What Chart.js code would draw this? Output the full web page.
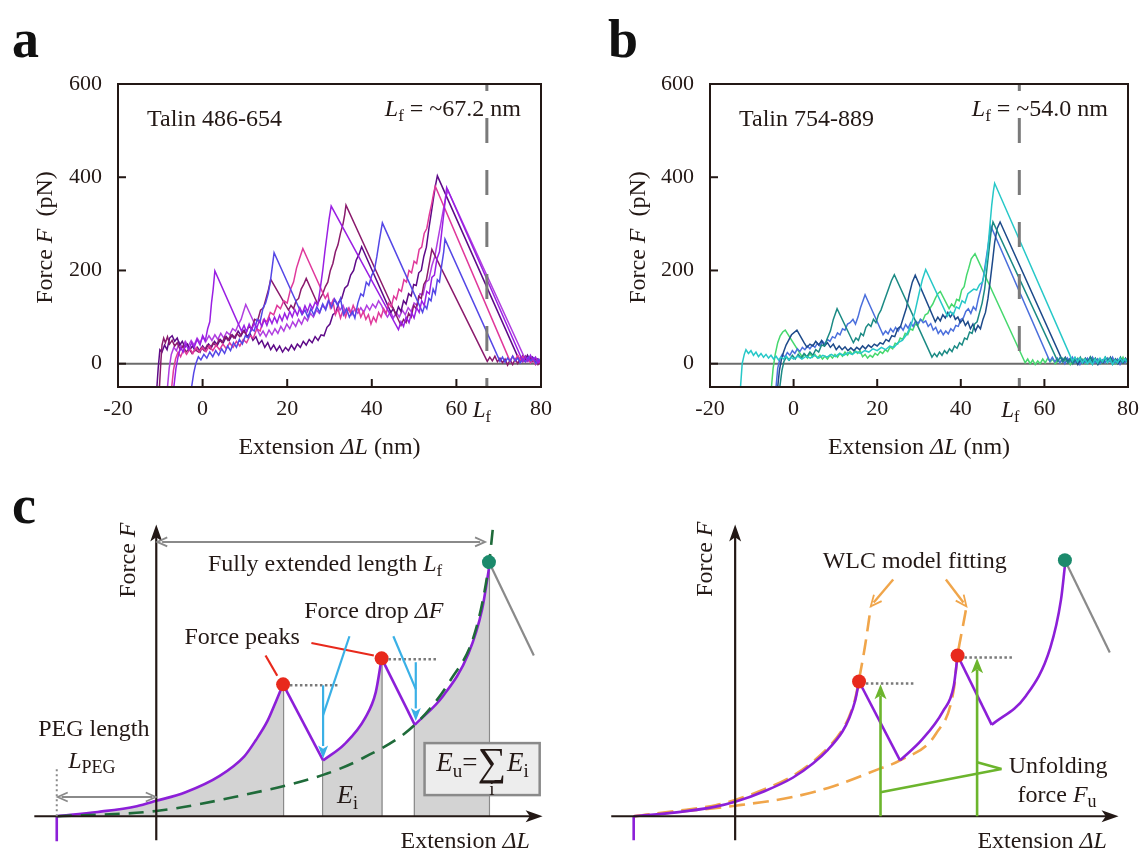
<!DOCTYPE html>
<html>
<head>
<meta charset="utf-8">
<script src="https://cdn.jsdelivr.net/npm/chart.js@4.4.1/dist/chart.umd.min.js"></script>
<style>
  html, body { margin: 0; padding: 0; background: #fff; }
  #wrap { position: relative; width: 1148px; height: 856px; overflow: hidden; }
  canvas { position: absolute; }
  .lab { position: absolute; font-family: "Liberation Serif", serif; font-weight: bold; font-size: 54px; color: #111; line-height: 1; }
</style>
</head>
<body>
<div id="wrap">
  <div class="lab" style="left:12px;top:12px">a</div>
  <div class="lab" style="left:608px;top:12px">b</div>
  <div class="lab" style="left:12px;top:478px">c</div>
  <canvas id="chartA" style="left:0;top:0" width="574" height="480"></canvas>
  <canvas id="chartB" style="left:574px;top:0" width="574" height="480"></canvas>
  <canvas id="chartC1" style="left:0;top:480px" width="574" height="376"></canvas>
  <canvas id="chartC2" style="left:574px;top:480px" width="574" height="376"></canvas>
</div>
<script>
const FONT = '"Liberation Serif", "Times New Roman", serif';
const INK = '#231815';

// axes (panels a, b): extension in nm, force in pN
const xTickLabels = [-20, 0, 20, 40, 60, 80];
const xTickMarks = [0, 20, 40, 60];
const yTicks = [0, 200, 400, 600];
const lfA = 67.2;
const lfB = 54.0;

// panel a traces, Talin 486-654
const traceA1 = [[-6.8,-50],[-6.3,-10],[-5.8,15],[-5.2,35],[-4.6,25],[-4,42],[-3.3,30],[-2.6,45],[-2,35],[-1.3,52],[-0.6,40],[0,60],[0.6,48],[1.2,75],[1.7,90],[2.1,130],[2.5,160],[2.9,199],[9.2,70],[9.8,82],[10.4,68],[11,85],[11.6,72],[12.2,88],[12.8,76],[13.4,92],[14,80],[14.6,95],[15.2,82],[15.8,98],[16.4,86],[17,100],[17.6,88],[18.2,104],[18.8,92],[19.4,108],[20,96],[20.6,112],[21.2,100],[21.8,116],[22.4,104],[23,120],[23.6,108],[24.2,124],[24.8,112],[25.4,128],[26,118],[26.6,132],[27.2,125],[27.8,160],[28.4,200],[28.9,240],[29.4,275],[29.9,310],[30.4,338],[46.3,73],[46.9,90],[47.5,80],[48.1,100],[48.8,88],[49.4,110],[50,98],[50.6,120],[51.2,110],[51.8,135],[52.4,125],[53,155],[53.6,150],[54.2,185],[54.8,190],[55.4,225],[56,240],[56.5,280],[57,320],[57.4,355],[57.7,378],[75.7,5],[76.3,15],[76.9,5],[77.5,18],[78.1,8],[78.7,14],[79.3,2],[80,10]];
const traceA2 = [[-2.6,-50],[-2.1,-20],[-1.6,0],[-1,15],[-0.4,8],[0.3,20],[1,12],[1.7,25],[2.4,15],[3.1,28],[3.8,18],[4.5,32],[5.2,22],[5.9,38],[6.6,28],[7.3,45],[8,35],[8.7,52],[9.4,42],[10.1,60],[10.8,55],[11.5,75],[12.2,70],[12.9,95],[13.6,90],[14.3,120],[14.9,130],[15.5,150],[16,175],[16.5,210],[16.9,238],[23.5,105],[24.2,115],[24.9,100],[25.6,118],[26.3,105],[27,122],[27.7,110],[28.4,128],[29.1,115],[29.8,135],[30.5,120],[31.2,138],[31.9,125],[32.6,140],[33.3,105],[34,118],[34.7,100],[35.4,112],[36,98],[36.7,130],[37.4,150],[38,145],[38.7,175],[39.3,168],[40,190],[40.6,200],[41.2,230],[41.8,265],[42.5,302],[52,110],[52.5,125],[53,118],[53.5,140],[54,135],[54.5,160],[55,150],[55.5,180],[56,175],[56.5,210],[57,240],[57.3,267],[70.3,5],[70.9,14],[71.5,3],[72.1,12],[72.7,5],[73.3,16],[73.9,6],[74.5,12],[75.1,2],[75.7,10],[76.3,4],[77,14],[77.6,6],[78.2,12],[78.8,0],[79.4,9],[80,2]];
const traceA3 = [[-7.3,-50],[-6.9,-15],[-6.4,10],[-5.8,25],[-5.2,15],[-4.5,30],[-3.8,20],[-3,32],[-2.3,22],[-1.5,35],[-0.8,25],[0,35],[0.8,26],[1.6,38],[2.4,28],[3.2,40],[4,30],[4.8,42],[5.6,32],[6.4,45],[7.2,35],[8,48],[8.8,38],[9.6,52],[10.4,45],[11.2,60],[12,55],[12.8,75],[13.6,70],[14.4,95],[15.2,90],[16,110],[16.8,105],[17.6,125],[18.4,118],[19.2,135],[20,130],[20.8,160],[21.5,175],[22.2,205],[22.9,225],[23.7,247],[29,140],[29.6,150],[30.2,120],[30.8,135],[31.4,105],[32,118],[32.6,98],[33.2,115],[33.8,100],[34.4,118],[35,108],[35.6,125],[36.2,112],[36.8,118],[37.4,100],[38,112],[38.6,95],[39.2,105],[39.8,85],[40.4,100],[41,90],[41.6,110],[42.2,100],[42.8,118],[43.4,108],[44,130],[44.6,122],[45.2,145],[45.8,138],[46.4,160],[47,155],[47.6,180],[48.2,175],[48.8,200],[49.4,195],[50,220],[50.6,215],[51.2,245],[51.8,250],[52.4,280],[53,290],[53.6,320],[54.2,345],[54.6,365],[55,381],[72.7,5],[73.3,16],[73.9,6],[74.5,18],[75.1,8],[75.7,15],[76.3,4],[76.9,12],[77.5,2],[78.1,10],[78.7,-2],[79.3,8],[80,0]];
const traceA4 = [[-10.2,-50],[-9.9,0],[-9.6,40],[-9.2,55],[-8.8,45],[-8.3,58],[-7.8,42],[-7.2,50],[-6.6,38],[-6,45],[-5.3,30],[-4.6,38],[-3.9,25],[-3.2,32],[-2.5,22],[-1.8,30],[-1,25],[-0.3,35],[0.4,28],[1.1,40],[1.8,32],[2.5,45],[3.2,38],[3.9,52],[4.6,45],[5.3,58],[6,50],[6.7,62],[7.4,55],[8.1,65],[8.8,58],[9.5,70],[10.2,65],[10.9,80],[11.6,75],[12.3,95],[13,92],[13.7,115],[14.4,120],[15,140],[15.6,160],[16.1,181],[20.3,115],[20.9,125],[21.5,118],[22.1,135],[22.7,140],[23.3,160],[23.9,170],[24.5,183],[27.2,128],[27.8,140],[28.4,150],[29,165],[29.6,175],[30.2,200],[30.8,215],[31.4,240],[32,255],[32.6,280],[33.2,300],[33.6,320],[33.9,340],[46.9,82],[47.5,95],[48.1,88],[48.7,108],[49.3,100],[49.9,125],[50.5,118],[51.1,145],[51.7,140],[52.3,170],[52.9,180],[53.5,210],[54.2,245],[67.3,5],[67.9,14],[68.5,6],[69.1,16],[69.7,4],[70.3,12],[70.9,2],[71.5,10],[72.1,-3],[72.7,8],[73.3,-2],[73.9,10],[74.5,0],[75.1,12],[75.7,4],[76.3,16],[76.9,6],[77.5,14],[78.1,4],[78.7,12],[79.3,-2],[80,6]];
const traceA5 = [[-10.8,-50],[-10.5,-10],[-10.1,30],[-9.6,25],[-9,40],[-8.4,30],[-7.8,55],[-7.2,60],[-6.6,48],[-6,55],[-5.4,40],[-4.8,48],[-4.2,35],[-3.6,42],[-3,30],[-2.4,38],[-1.8,28],[-1.2,35],[-0.6,25],[0,38],[0.7,30],[1.4,42],[2.1,35],[2.8,48],[3.5,40],[4.2,52],[4.9,45],[5.6,58],[6.3,50],[7,62],[7.7,55],[8.4,70],[9.1,60],[9.8,72],[10.5,58],[11.2,65],[11.9,50],[12.6,58],[13.3,42],[14,50],[14.7,35],[15.4,45],[16.1,30],[16.8,40],[17.5,28],[18.2,38],[18.9,25],[19.6,35],[20.3,28],[21,40],[21.7,30],[22.4,42],[23.1,35],[23.8,48],[24.5,40],[25.2,52],[25.9,45],[26.6,58],[27.3,50],[28,62],[28.7,60],[29.4,78],[30.1,85],[30.8,105],[31.5,110],[32.2,132],[32.9,140],[33.6,162],[34.3,168],[35,190],[35.7,200],[36.3,222],[37,235],[37.6,251],[44.5,110],[45.1,118],[45.7,105],[46.3,122],[46.9,112],[47.5,135],[48.1,128],[48.7,150],[49.3,145],[49.9,170],[50.5,168],[51.1,195],[51.7,200],[52.3,230],[52.9,250],[53.5,290],[54,320],[54.5,350],[55,380],[55.5,403],[75,5],[75.6,16],[76.2,6],[76.8,18],[77.4,8],[78,14],[78.6,2],[79.2,10],[80,-2]];
const traceA6 = [[-8.3,-50],[-7.9,-10],[-7.4,20],[-6.8,35],[-6.2,28],[-5.5,45],[-4.8,35],[-4.1,48],[-3.4,38],[-2.7,50],[-2,40],[-1.3,55],[-0.6,45],[0.1,58],[0.8,48],[1.5,60],[2.2,50],[2.9,62],[3.6,52],[4.3,65],[5,55],[5.7,68],[6.4,62],[7.1,75],[7.8,70],[8.5,85],[9.1,95],[9.6,110],[10.2,127],[13.6,60],[14.3,70],[15,58],[15.7,72],[16.4,62],[17.1,75],[17.8,65],[18.5,80],[19.2,70],[19.9,85],[20.6,75],[21.3,90],[22,80],[22.7,95],[23.4,85],[24.1,100],[24.8,92],[25.5,108],[26.2,100],[26.9,115],[27.6,108],[28.3,125],[29,118],[29.7,135],[30.4,128],[31.1,140],[31.8,130],[32.5,115],[33.2,125],[33.9,108],[34.6,120],[35.3,105],[36,118],[36.7,108],[37.4,120],[38.1,110],[38.8,125],[39.5,115],[40.2,128],[40.9,120],[41.6,135],[42.3,125],[43,110],[43.7,100],[44.4,112],[45.1,98],[45.8,110],[46.5,100],[47.2,115],[47.9,105],[48.6,120],[49.3,112],[50,130],[50.7,125],[51.4,150],[52.1,148],[52.8,175],[53.5,180],[54.2,210],[54.9,230],[55.6,265],[56.3,300],[57,335],[57.6,360],[58,372],[76.5,5],[77.1,14],[77.7,4],[78.3,12],[78.9,2],[79.5,10],[80,3]];
const colorsA = ['#9a1fe3', '#5547e6', '#e0399b', '#8a1a6c', '#5e0a88', '#b03ee0'];

// panel b traces, Talin 754-889
const traceB1 = [[-12.7,-50],[-12.3,0],[-11.8,20],[-11.4,30],[-10.8,22],[-10.2,28],[-9.6,18],[-9,25],[-8.4,15],[-7.8,22],[-7.2,14],[-6.6,20],[-6,12],[-5.4,18],[-4.8,10],[-4.2,16],[-3.6,8],[-3,14],[-2.4,10],[-1.8,16],[-1.2,8],[-0.6,14],[0,10],[1,16],[2,10],[3,16],[4,12],[5,18],[6,12],[7,18],[8,14],[9,20],[10,15],[11,22],[12,18],[13,24],[14,20],[15,26],[16,22],[17,28],[18,25],[19,32],[20,28],[21,35],[22,30],[23,38],[24,35],[25,45],[26,50],[27,62],[28,80],[29,110],[30,150],[30.8,180],[31.6,202],[36.8,102],[37.5,112],[38.2,105],[38.9,122],[39.6,118],[40.3,135],[41,130],[41.7,150],[42.4,155],[43.1,160],[43.8,158],[44.5,170],[45.2,175],[45.8,200],[46.4,240],[46.9,290],[47.4,340],[47.8,370],[48.1,387],[66.7,6],[67.3,14],[67.9,4],[68.5,12],[69.1,2],[69.7,10],[70.3,0],[70.9,8],[71.5,-2],[72.1,10],[72.7,2],[73.3,12],[73.9,4],[74.5,14],[75.1,2],[75.7,10],[76.3,-2],[76.9,8],[77.5,2],[78.1,12],[78.7,4],[79.3,10],[80,2]];
const traceB2 = [[-3.3,-50],[-2.8,-15],[-2.3,5],[-1.7,15],[-1,8],[-0.3,18],[0.4,10],[1.1,20],[1.8,12],[2.5,22],[3.2,15],[3.9,25],[4.6,18],[5.3,30],[6,25],[6.7,40],[7.4,38],[8.1,55],[8.8,70],[9.5,95],[10.4,118],[14.3,45],[14.9,55],[15.5,50],[16.1,65],[16.7,60],[17.3,78],[17.9,85],[18.5,80],[19.1,95],[19.7,88],[20.3,105],[20.9,115],[21.5,130],[22.1,145],[22.7,160],[23.4,178],[24.1,191],[33.1,14],[33.7,22],[34.3,15],[34.9,25],[35.5,18],[36.1,28],[36.7,22],[37.3,32],[37.9,26],[38.5,38],[39.1,33],[39.7,45],[40.3,40],[40.9,55],[41.5,52],[42.1,68],[42.7,65],[43.3,85],[43.9,90],[44.5,110],[45.1,130],[45.7,160],[46.2,200],[46.7,240],[47.2,280],[47.7,304],[63.2,5],[63.8,14],[64.4,4],[65,12],[65.6,2],[66.2,10],[66.8,0],[67.4,12],[68,4],[68.6,14],[69.2,2],[69.8,10],[70.4,4],[71,15],[71.6,6],[72.2,12],[72.8,0],[73.4,8],[74,4],[74.6,14],[75.2,5],[75.8,12],[76.4,0],[77,10],[77.6,4],[78.2,14],[78.8,2],[79.4,10],[80,6]];
const traceB3 = [[-3.8,-50],[-3.4,-15],[-2.9,10],[-2.4,25],[-1.8,40],[-1.2,50],[-0.5,62],[0.8,72],[2.5,45],[3.2,35],[3.9,42],[4.6,38],[5.3,48],[6,40],[6.7,50],[7.4,38],[8.1,45],[8.8,35],[9.5,42],[10.2,30],[10.9,38],[11.6,30],[12.3,36],[13,28],[13.7,34],[14.4,28],[15.1,35],[15.8,30],[16.5,38],[17.2,32],[17.9,40],[18.6,35],[19.3,42],[20,38],[20.7,45],[21.4,42],[22.1,52],[22.8,48],[23.5,60],[24.2,58],[24.9,75],[25.6,80],[26.3,100],[27,120],[27.7,150],[28.4,175],[29.1,190],[33.9,90],[34.5,100],[35.1,92],[35.7,105],[36.3,98],[36.9,110],[37.5,100],[38.1,108],[38.7,95],[39.3,100],[39.9,88],[40.5,95],[41.1,82],[41.7,90],[42.3,75],[42.9,85],[43.5,70],[44.1,82],[44.7,75],[45.3,95],[45.9,110],[46.5,140],[47,175],[47.6,220],[48.1,260],[48.7,290],[49.4,304],[64.4,5],[65,14],[65.6,4],[66.2,12],[66.8,2],[67.4,10],[68,-2],[68.6,8],[69.2,2],[69.8,12],[70.4,4],[71,14],[71.6,2],[72.2,10],[72.8,-2],[73.4,8],[74,2],[74.6,12],[75.2,4],[75.8,14],[76.4,2],[77,10],[77.6,0],[78.2,8],[78.8,2],[79.4,12],[80,4]];
const traceB4 = [[-4.2,-50],[-3.8,-10],[-3.3,10],[-2.7,20],[-2.1,14],[-1.5,24],[-0.9,18],[-0.3,28],[0.3,22],[0.9,32],[1.5,26],[2.1,35],[2.7,30],[3.3,38],[3.9,32],[4.5,40],[5.1,35],[5.7,44],[6.3,38],[6.9,48],[7.5,42],[8.1,52],[8.7,48],[9.3,58],[9.9,55],[10.5,66],[11.1,62],[11.7,75],[12.3,72],[12.9,85],[13.5,88],[14.2,95],[14.8,85],[15.4,100],[16,120],[16.6,135],[17.1,148],[21.4,62],[22,70],[22.6,64],[23.2,75],[23.8,68],[24.4,78],[25,70],[25.6,80],[26.2,72],[26.8,84],[27.4,76],[28,88],[28.6,80],[29.2,92],[29.8,86],[30.4,95],[31,88],[31.6,92],[32.2,80],[32.8,86],[33.4,72],[34,78],[34.6,65],[35.2,72],[35.8,62],[36.4,70],[37,64],[37.6,75],[38.2,70],[38.8,82],[39.4,80],[40,95],[40.6,98],[41.2,112],[41.8,118],[42.4,108],[43,122],[43.6,115],[44.2,140],[44.8,160],[45.4,185],[45.9,215],[46.4,245],[46.8,270],[47.2,295],[61.3,5],[61.9,14],[62.5,4],[63.1,12],[63.7,2],[64.3,10],[64.9,0],[65.5,12],[66.1,4],[66.7,14],[67.3,2],[67.9,10],[68.5,-2],[69.1,8],[69.7,2],[70.3,12],[70.9,4],[71.5,14],[72.1,2],[72.7,10],[73.3,0],[73.9,8],[74.5,2],[75.1,12],[75.7,4],[76.3,14],[76.9,2],[77.5,10],[78.1,-2],[78.7,8],[79.3,2],[80,10]];
const traceB5 = [[-5.3,-50],[-4.9,-10],[-4.4,20],[-3.8,45],[-3.2,60],[-2.6,68],[-2,72],[2.1,14],[2.7,20],[3.3,12],[3.9,22],[4.5,14],[5.1,20],[5.7,12],[6.3,18],[6.9,10],[7.5,16],[8.1,10],[8.7,18],[9.3,12],[9.9,20],[10.5,14],[11.1,22],[11.7,16],[12.3,25],[12.9,18],[13.5,26],[14.1,20],[14.7,28],[15.3,22],[15.9,28],[16.5,15],[17.1,20],[17.7,12],[18.3,18],[18.9,14],[19.5,22],[20.1,18],[20.7,26],[21.3,22],[21.9,30],[22.5,26],[23.1,36],[23.7,32],[24.3,44],[24.9,42],[25.5,55],[26.1,52],[26.7,65],[27.3,62],[27.9,75],[28.5,72],[29.1,85],[29.7,82],[30.3,95],[30.9,92],[31.5,105],[32.1,108],[32.7,120],[33.3,128],[33.9,140],[34.5,150],[35.1,155],[37.2,118],[37.8,128],[38.4,122],[39,138],[39.6,135],[40.2,158],[40.8,165],[41.4,190],[41.9,205],[42.5,225],[43.4,236],[55.4,2],[56,10],[56.6,0],[57.2,8],[57.8,-2],[58.4,6],[59,0],[59.6,10],[60.2,2],[60.8,12],[61.4,4],[62,10],[62.6,0],[63.2,8],[63.8,2],[64.4,12],[65,4],[65.6,10],[66.2,-2],[66.8,8],[67.4,2],[68,12],[68.6,4],[69.2,10],[69.8,0],[70.4,8],[71,2],[71.6,12],[72.2,4],[72.8,10],[73.4,0],[74,8],[74.6,2],[75.2,12],[75.8,4],[76.4,10],[77,0],[77.6,8],[78.2,4],[78.8,14],[79.4,2],[80,8]];
const colorsB = ['#27c8c8', '#1b8a84', '#1d4a8a', '#4b6fdc', '#46d86e'];

// panel c (schematic, arbitrary units): left sketch
const leftRise1 = [[-10.2,0],[-6,0.45],[-2,1.05],[0,1.6],[3,2.5],[6.5,4.2],[9,6.2],[10.2,7.9],[11.4,9.9],[12.3,12],[13,13.7]];
const leftRise2 = [[17.1,5.8],[19.3,7.5],[21.4,10.2],[22.5,12.9],[23.1,16.4]];
const leftRise3 = [[26.5,9.5],[29.4,12.5],[32,16.9],[33.4,21.5],[34.1,25.7]];
const leftWlc = [[-10.2,0],[0,0.55],[8,2],[17.1,4.3],[21.1,6],[26.5,9.5],[30.2,14.2],[32.7,19.2],[34.1,26.2],[34.5,29.9]];
const leftEnd = [34.1, 26.4];
const leftRetract = [38.7, 16.7];
// right sketch
const rightRise1 = [[-10.4,0],[-6,0.4],[-2,1.0],[0,1.5],[3,2.6],[5.9,4.0],[8,5.5],[9.5,6.9],[11,8.8],[11.7,10.2],[12.3,12],[12.7,14.0]];
const rightRise2 = [[16.9,5.8],[19.1,7.9],[21.3,10.9],[22.4,13.5],[22.8,16.7]];
const rightRise3 = [[26.3,9.5],[29.8,12.5],[32.3,17.5],[33.4,22.5],[33.8,26.0]];
const rightFit1 = [[-10.4,0],[-6,0.55],[-2,1.15],[0,1.7],[3,2.8],[5.9,4.2],[8,5.7],[9.5,7.1],[11,9.0],[11.7,10.4],[12.3,12.2],[12.7,14.2],[13.3,17.6],[13.9,21.7]];
const rightFit2 = [[-10.4,0],[0,1.1],[5.9,2.0],[10,3.1],[14.7,4.9],[16.9,5.8],[20.6,8.6],[22.4,13.1],[22.8,16.7],[23.3,19.5],[23.7,21.7]];
const rightEnd = [33.8, 26.6];
const rightRetract = [38.4, 17.0];

const xy = arr => arr.map(p => ({ x: p[0], y: p[1] }));

// ---------- text helpers ----------
function fontOf(p) { return (p[2] === 'i' ? 'italic ' : '') + p[1] + 'px ' + FONT; }
function richWidth(ctx, parts) {
  let w = 0;
  parts.forEach(p => { ctx.font = fontOf(p); w += ctx.measureText(p[0]).width; });
  return w;
}
// parts: [text, size, 'i' for italic, dy]; y is the visual middle of the main text
function drawRich(ctx, parts, x, y, align) {
  const w = richWidth(ctx, parts);
  let cx = align === 'left' ? x : align === 'right' ? x - w : x - w / 2;
  const base = y + parts[0][1] * 0.33;
  ctx.textAlign = 'left';
  ctx.textBaseline = 'alphabetic';
  ctx.fillStyle = INK;
  parts.forEach(p => {
    ctx.font = fontOf(p);
    ctx.fillText(p[0], cx, base + (p[3] || 0));
    cx += ctx.measureText(p[0]).width;
  });
}
function drawRotated(ctx, parts, x, y) {
  ctx.save();
  ctx.translate(x, y);
  ctx.rotate(-Math.PI / 2);
  drawRich(ctx, parts, 0, 0, 'center');
  ctx.restore();
}
function seg(ctx, a, b, color, w, dash) {
  ctx.save();
  ctx.strokeStyle = color;
  ctx.lineWidth = w;
  ctx.setLineDash(dash || []);
  ctx.beginPath();
  ctx.moveTo(a[0], a[1]);
  ctx.lineTo(b[0], b[1]);
  ctx.stroke();
  ctx.restore();
}
function head(ctx, tip, from, len, half, color, filled) {
  const ang = Math.atan2(tip[1] - from[1], tip[0] - from[0]);
  const c = Math.cos(ang), s = Math.sin(ang);
  const p1 = [tip[0] - len * c + half * s, tip[1] - len * s - half * c];
  const p2 = [tip[0] - len * c - half * s, tip[1] - len * s + half * c];
  ctx.save();
  ctx.strokeStyle = color;
  ctx.fillStyle = color;
  ctx.lineWidth = 1.8;
  ctx.setLineDash([]);
  ctx.beginPath();
  if (filled) {
    const notch = [tip[0] - len * 0.75 * c, tip[1] - len * 0.75 * s];
    ctx.moveTo(tip[0], tip[1]);
    ctx.lineTo(p1[0], p1[1]);
    ctx.lineTo(notch[0], notch[1]);
    ctx.lineTo(p2[0], p2[1]);
    ctx.closePath();
    ctx.fill();
  } else {
    ctx.moveTo(p1[0], p1[1]);
    ctx.lineTo(tip[0], tip[1]);
    ctx.lineTo(p2[0], p2[1]);
    ctx.stroke();
  }
  ctx.restore();
}

// ---------- panels a, b ----------
function forceChart(id, traces, colors, lf, title, lfValue, padLeft, padRight, titleX, lfShift) {
  const datasets = [];
  datasets.push({ data: xy([[-20, 0], [80, 0]]), borderColor: '#6b6b6b', borderWidth: 2, order: 40 });
  traces.forEach((t, i) => datasets.push({ data: xy(t), borderColor: colors[i], borderWidth: 1.5, order: 10 + i }));
  datasets.push({ data: xy([[lf, 600], [lf, -50]]), borderColor: '#7a7a7a', borderWidth: 3, borderDash: [25, 27], borderDashOffset: 18, order: 1 });
  datasets.forEach(d => { d.showLine = true; d.pointRadius = 0; d.tension = 0; d.fill = false; });

  const frame = {
    id: 'frame',
    afterDraw(chart) {
      const { ctx, chartArea: a, scales: { x, y } } = chart;
      ctx.save();
      ctx.strokeStyle = INK;
      ctx.lineWidth = 2;
      ctx.strokeRect(a.left, a.top, a.right - a.left, a.bottom - a.top);
      yTicks.forEach(v => seg(ctx, [a.left, y.getPixelForValue(v)], [a.left + 8, y.getPixelForValue(v)], INK, 2));
      xTickMarks.forEach(v => seg(ctx, [x.getPixelForValue(v), a.bottom], [x.getPixelForValue(v), a.bottom - 8], INK, 2));
      // Lf under the axis
      drawRich(ctx, [['L', 23, 'i'], ['f', 16, '', 5]], x.getPixelForValue(lf) + lfShift, 409, 'center');
      // annotations
      drawRich(ctx, [[title, 24]], a.left + 29, 118, 'left');
      drawRich(ctx, [['L', 24, 'i'], ['f', 17, '', 5], [' = ~' + lfValue + ' nm', 24]], a.right - 20, 108, 'right');
      drawRotated(ctx, [['Force ', 24], ['F', 24, 'i'], ['  (pN)', 24]], titleX, (a.top + a.bottom) / 2 + 2);
      drawRich(ctx, [['Extension ', 24], ['ΔL', 24, 'i'], [' (nm)', 24]], (a.left + a.right) / 2, 446, 'center');
      ctx.restore();
    }
  };

  const tickFont = { family: FONT, size: 22 };
  new Chart(document.getElementById(id), {
    type: 'scatter',
    data: { datasets },
    options: {
      responsive: false,
      animation: false,
      events: [],
      devicePixelRatio: 1,
      layout: { padding: { left: padLeft, right: padRight, top: 84, bottom: 0 } },
      plugins: { legend: { display: false }, tooltip: { enabled: false } },
      scales: {
        x: {
          type: 'linear', min: -20, max: 80,
          grid: { display: false, drawTicks: false }, border: { display: false },
          afterBuildTicks: s => { s.ticks = xTickLabels.map(v => ({ value: v })); },
          afterFit: s => { s.height = 93; },
          ticks: { padding: 9, color: INK, font: tickFont, maxRotation: 0, autoSkip: false }
        },
        y: {
          type: 'linear', min: -50, max: 600,
          grid: { display: false, drawTicks: false }, border: { display: false },
          afterBuildTicks: s => { s.ticks = yTicks.map(v => ({ value: v })); },
          afterFit: s => { s.width = 60; },
          ticks: { padding: 16, color: INK, font: tickFont, autoSkip: false }
        }
      }
    },
    plugins: [frame]
  });
}

forceChart('chartA', [traceA1, traceA2, traceA3, traceA4, traceA5, traceA6], colorsA, lfA, 'Talin 486-654', '67.2', 58, 33, 44, -5);
forceChart('chartB', [traceB1, traceB2, traceB3, traceB4, traceB5], colorsB, lfB, 'Talin 754-889', '54.0', 76, 14, 63, -9);

// ---------- panel c ----------
const PURPLE = '#8c1fd8';
const FILLGRAY = '#d3d3d3';
const LINEGRAY = '#8a8a8a';
const RED = '#e8291c';
const TEAL = '#1b8a6c';

function lineDs(points, color, width, extra) {
  return Object.assign({ data: xy(points), showLine: true, pointRadius: 0, borderColor: color, borderWidth: width, fill: false, tension: 0 }, extra || {});
}
function dotDs(points, color, order) {
  return { data: xy(points), showLine: false, pointRadius: 7, pointBackgroundColor: color, pointBorderColor: color, pointBorderWidth: 0, order: order };
}
function risesWithFill(rises, fillIt) {
  return rises.map(r => lineDs(r, PURPLE, 2.6, { cubicInterpolationMode: 'monotone', fill: fillIt ? 'origin' : false, backgroundColor: FILLGRAY, order: 5 }));
}
function drops(rises) {
  const out = [];
  for (let i = 0; i < rises.length - 1; i++) {
    out.push(lineDs([rises[i][rises[i].length - 1], rises[i + 1][0]], PURPLE, 2.6, { order: 4 }));
  }
  return out;
}

function schematic(id, xmin, xmax, datasets, draw) {
  new Chart(document.getElementById(id), {
    type: 'scatter',
    data: { datasets },
    options: {
      responsive: false,
      animation: false,
      events: [],
      devicePixelRatio: 1,
      layout: { padding: 0 },
      plugins: { legend: { display: false }, tooltip: { enabled: false } },
      scales: {
        x: { type: 'linear', display: false, min: xmin, max: xmax },
        y: { type: 'linear', display: false, min: -3.4, max: 34.2 }
      }
    },
    plugins: [{ id: 'sketch', afterDatasetsDraw: draw }]
  });
}

function axesArrows(ctx, P, xFrom, xTo) {
  seg(ctx, P([xFrom, 0]), P([xTo - 1, 0]), INK, 2.2);
  head(ctx, P([xTo, 0]), P([xFrom, 0]), 17, 6, INK, true);
  seg(ctx, P([0, -2.5]), P([0, 29.2]), INK, 2.2);
  head(ctx, P([0, 30.3]), P([0, -2.5]), 17, 6, INK, true);
}

// left sketch
const leftRises = [leftRise1, leftRise2, leftRise3];
const leftSeparators = [];
leftRises.forEach(r => { leftSeparators.push(r[0]); leftSeparators.push(r[r.length - 1]); });
const leftPeaks = [leftRise1[leftRise1.length - 1], leftRise2[leftRise2.length - 1]];
const leftDatasets = [].concat(
  risesWithFill(leftRises, true),
  drops(leftRises),
  leftSeparators.slice(1).map(p => lineDs([[p[0], 0], p], LINEGRAY, 2.2, { order: 6 })),
  [lineDs(leftWlc, '#1f6b3a', 2.6, { cubicInterpolationMode: 'monotone', borderDash: [15, 9], order: 3 })],
  [lineDs([leftRise1[0], [leftRise1[0][0], -2.6]], PURPLE, 2.6, { order: 4 })],
  [lineDs([leftEnd, leftRetract], LINEGRAY, 2.2, { order: 4 })],
  [dotDs(leftPeaks, RED, 1), dotDs([leftEnd], TEAL, 1)]
);

schematic('chartC1', -15.3, 42.1, leftDatasets, chart => {
  const ctx = chart.ctx;
  const P = p => [chart.scales.x.getPixelForValue(p[0]), chart.scales.y.getPixelForValue(p[1])];
  ctx.save();
  axesArrows(ctx, P, -12.5, 39.6);
  // dotted guide at the PEG start
  seg(ctx, P([leftRise1[0][0], 0]), P([leftRise1[0][0], 5.2]), '#8a8a8a', 2, [2, 3]);
  // peak level guides
  leftPeaks.forEach(p => seg(ctx, P([p[0] + 0.7, p[1] - 0.1]), P([p[0] + 5.7, p[1] - 0.1]), '#7a7a7a', 2.5, [2.5, 2.5]));
  // fully extended length arrow
  seg(ctx, P([0.6, 28.5]), P([33.2, 28.5]), LINEGRAY, 2);
  head(ctx, P([0.1, 28.5]), P([10, 28.5]), 10, 4.5, LINEGRAY, false);
  head(ctx, P([33.7, 28.5]), P([20, 28.5]), 10, 4.5, LINEGRAY, false);
  // PEG length arrow
  seg(ctx, P([-9.7, 2.0]), P([-0.4, 2.0]), LINEGRAY, 2);
  head(ctx, P([-10.1, 2.0]), P([0, 2.0]), 10, 4.5, LINEGRAY, false);
  head(ctx, P([-0.05, 2.0]), P([-10, 2.0]), 10, 4.5, LINEGRAY, false);
  // force peak pointers
  seg(ctx, P([11.2, 16.7]), P([12.4, 14.6]), RED, 2.2);
  seg(ctx, P([15.9, 18.0]), P([22.3, 16.7]), RED, 2.2);
  // force drop arrows
  const BLUE = '#3ab0e6';
  seg(ctx, P([19.8, 18.7]), P([17.1, 10.5]), BLUE, 2.2);
  seg(ctx, P([17.1, 13.6]), P([17.1, 7.3]), BLUE, 2.2);
  head(ctx, P([17.1, 6.0]), P([17.1, 13]), 13, 5, BLUE, true);
  seg(ctx, P([24.3, 18.7]), P([26.6, 13.2]), BLUE, 2.2);
  seg(ctx, P([26.6, 16.0]), P([26.6, 11.2]), BLUE, 2.2);
  head(ctx, P([26.6, 9.9]), P([26.6, 15]), 13, 5, BLUE, true);
  // E_u box
  const b1 = P([27.5, 7.6]), b2 = P([39.3, 2.2]);
  ctx.fillStyle = '#ededed';
  ctx.fillRect(b1[0], b1[1], b2[0] - b1[0], b2[1] - b1[1]);
  ctx.strokeStyle = '#8a8a8a';
  ctx.lineWidth = 2.5;
  ctx.strokeRect(b1[0], b1[1], b2[0] - b1[0], b2[1] - b1[1]);
  const mid = P([33.4, 5.6]);
  const leftPart = [['E', 27, 'i'], ['u', 19, '', 6], ['=', 27]];
  const rightPart = [['E', 27, 'i'], ['i', 19, '', 6]];
  ctx.font = '40px ' + FONT;
  const sigW = ctx.measureText('∑').width;
  const wl = richWidth(ctx, leftPart), wr = richWidth(ctx, rightPart);
  let sx = mid[0] - (wl + sigW + wr) / 2;
  drawRich(ctx, leftPart, sx, mid[1], 'left');
  ctx.fillStyle = INK;
  ctx.font = '40px ' + FONT;
  ctx.fillText('∑', sx + wl, mid[1] + 13);
  drawRich(ctx, [['i', 19]], sx + wl + sigW / 2, mid[1] + 26, 'center');
  drawRich(ctx, rightPart, sx + wl + sigW + 1, mid[1], 'left');
  // labels
  const t = (parts, p, align) => { const q = P(p); drawRich(ctx, parts, q[0], q[1], align || 'center'); };
  drawRotated(ctx, [['Force ', 24], ['F', 24, 'i']], P([-3.0, 0])[0], P([0, 26.6])[1]);
  t([['Fully extended length ', 24], ['L', 24, 'i'], ['f', 17, '', 5]], [17.3, 26.3]);
  t([['Force peaks', 24]], [8.8, 18.7]);
  t([['Force drop ', 24], ['ΔF', 24, 'i']], [22.3, 21.4]);
  t([['PEG length', 24]], [-6.4, 9.2]);
  t([['L', 24, 'i'], ['PEG', 18, '', 5]], [-6.6, 5.8]);
  t([['E', 26, 'i'], ['i', 18, '', 6]], [19.6, 2.3]);
  t([['Extension ', 24], ['ΔL', 24, 'i']], [38.3, -2.5], 'right');
  ctx.restore();
});

// right sketch
const rightRises = [rightRise1, rightRise2, rightRise3];
const rightPeaks = [rightRise1[rightRise1.length - 1], rightRise2[rightRise2.length - 1]];
const rightDatasets = [].concat(
  risesWithFill(rightRises, false),
  drops(rightRises),
  [lineDs(rightFit1, '#f0a54a', 2.6, { cubicInterpolationMode: 'monotone', borderDash: [16, 8], order: 6 })],
  [lineDs(rightFit2, '#f0a54a', 2.6, { cubicInterpolationMode: 'monotone', borderDash: [16, 8], order: 6 })],
  [lineDs([rightRise1[0], [rightRise1[0][0], -2.5]], PURPLE, 2.6, { order: 4 })],
  [lineDs([rightEnd, rightRetract], LINEGRAY, 2.2, { order: 4 })],
  [dotDs(rightPeaks, RED, 1), dotDs([rightEnd], TEAL, 1)]
);

schematic('chartC2', -15.8, 41.6, rightDatasets, chart => {
  const ctx = chart.ctx;
  const P = p => [chart.scales.x.getPixelForValue(p[0]), chart.scales.y.getPixelForValue(p[1])];
  ctx.save();
  axesArrows(ctx, P, -12.7, 39.3);
  rightPeaks.forEach(p => seg(ctx, P([p[0] + 0.7, p[1] - 0.2]), P([p[0] + 5.7, p[1] - 0.2]), '#7a7a7a', 2.5, [2.5, 2.5]));
  // unfolding force arrows
  const GREEN = '#6cb52d';
  const arrowsX = [14.9, 24.8];
  arrowsX.forEach((ax, i) => {
    const top = rightPeaks[i][1] - 0.3;
    seg(ctx, P([ax, 0]), P([ax, top - 1.2]), GREEN, 2.6);
    head(ctx, P([ax, top]), P([ax, 0]), 15, 6, GREEN, true);
  });
  seg(ctx, P([27.3, 4.9]), P([14.9, 2.5]), GREEN, 2.6);
  seg(ctx, P([27.3, 4.9]), P([24.8, 5.6]), GREEN, 2.6);
  // WLC pointers
  const ORANGE = '#f0a54a';
  seg(ctx, P([16.2, 24.6]), P([14.2, 22.2]), ORANGE, 2.4);
  head(ctx, P([13.9, 21.8]), P([16.2, 24.6]), 11, 5, ORANGE, false);
  seg(ctx, P([21.6, 24.6]), P([23.4, 22.2]), ORANGE, 2.4);
  head(ctx, P([23.7, 21.8]), P([21.6, 24.6]), 11, 5, ORANGE, false);
  const t = (parts, p, align) => { const q = P(p); drawRich(ctx, parts, q[0], q[1], align || 'center'); };
  drawRotated(ctx, [['Force ', 24], ['F', 24, 'i']], P([-3.2, 0])[0], P([0, 26.7])[1]);
  t([['WLC model fitting', 24]], [18.4, 26.6]);
  t([['Unfolding', 24]], [33.1, 5.3]);
  t([['force ', 24], ['F', 24, 'i'], ['u', 18, '', 5]], [33.0, 2.3]);
  t([['Extension ', 24], ['ΔL', 24, 'i']], [38.1, -2.5], 'right');
  ctx.restore();
});
</script>
</body>
</html>
